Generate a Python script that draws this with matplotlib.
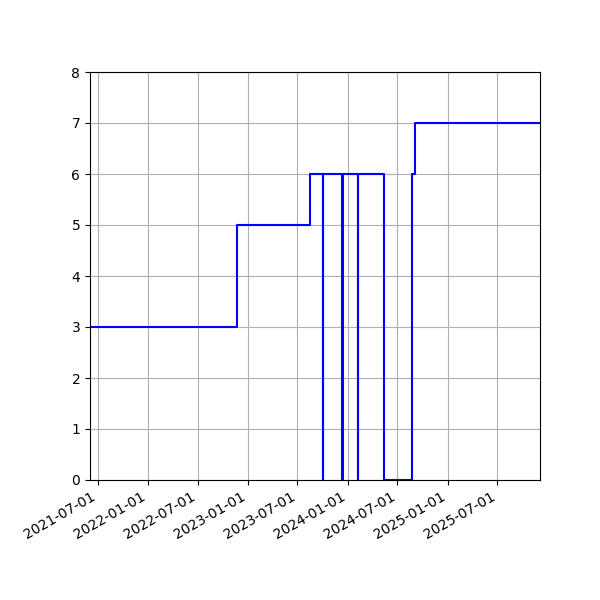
import matplotlib
matplotlib.use('Agg')
import matplotlib.pyplot as plt
import matplotlib.dates as mdates
import pandas as pd

# change points of the series (value holds until the next date)
dates = ['2021-06-03', '2022-11-24', '2023-08-16', '2023-10-03', '2023-10-04',
         '2023-12-13', '2023-12-14', '2024-02-06', '2024-02-07', '2024-05-13',
         '2024-08-24', '2024-09-02', '2025-12-04']
values = [3, 5, 6, 0, 6, 0, 6, 0, 6, 0, 6, 7, 7]

x = pd.to_datetime(dates)

fig, ax = plt.subplots(figsize=(6, 6), dpi=100)
ax.plot(x, values, color='blue', drawstyle='steps-post', linewidth=1.5)
ax.set_xlim(x[0], x[-1])
ax.set_ylim(0, 8)
ax.xaxis.set_major_locator(mdates.MonthLocator(bymonth=[1, 7]))
ax.xaxis.set_major_formatter(mdates.DateFormatter('%Y-%m-%d'))
ax.grid(True)
fig.autofmt_xdate()
fig.subplots_adjust(left=0.15, right=0.9, top=0.88, bottom=0.2)
plt.savefig('out.png')
